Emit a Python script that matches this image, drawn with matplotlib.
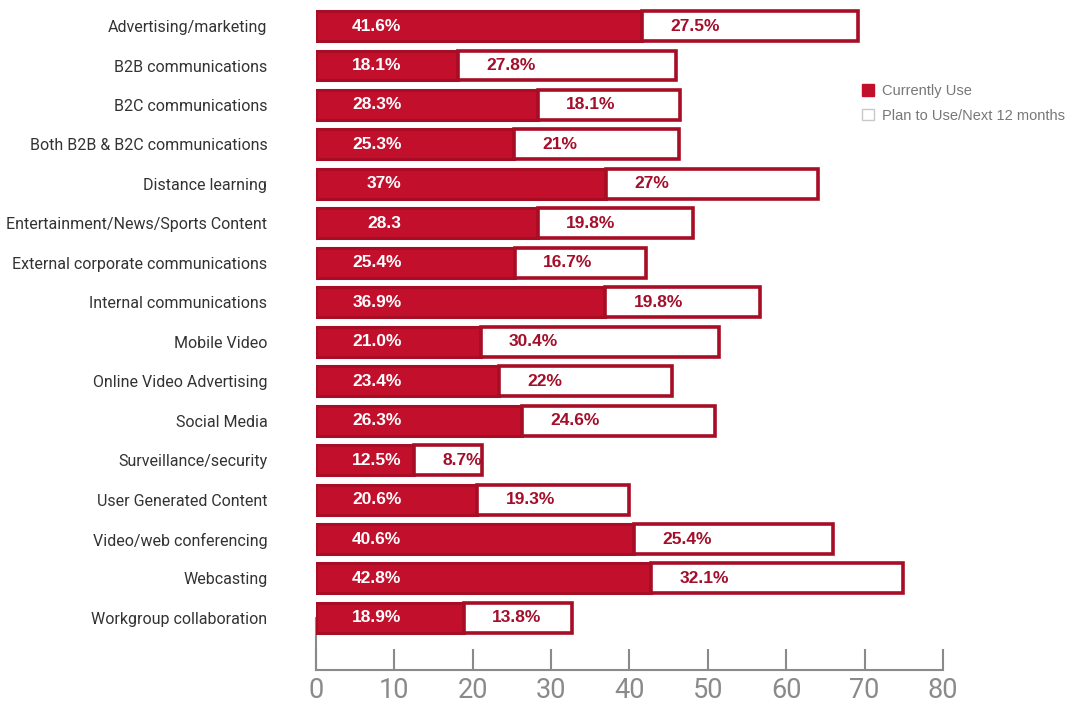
import matplotlib.pyplot as plt
from matplotlib.patches import Patch


categories = [
    "Advertising/marketing",
    "B2B communications",
    "B2C communications",
    "Both B2B & B2C communications",
    "Distance learning",
    "Entertainment/News/Sports Content",
    "External corporate communications",
    "Internal communications",
    "Mobile Video",
    "Online Video Advertising",
    "Social Media",
    "Surveillance/security",
    "User Generated Content",
    "Video/web conferencing",
    "Webcasting",
    "Workgroup collaboration",
]

currently_use = [41.6, 18.1, 28.3, 25.3, 37, 28.3, 25.4, 36.9,
                 21.0, 23.4, 26.3, 12.5, 20.6, 40.6, 42.8, 18.9]
plan_to_use = [27.5, 27.8, 18.1, 21, 27, 19.8, 16.7, 19.8,
               30.4, 22, 24.6, 8.7, 19.3, 25.4, 32.1, 13.8]

# labels as printed on the bars
current_labels = ["41.6%", "18.1%", "28.3%", "25.3%", "37%", "28.3", "25.4%", "36.9%",
                  "21.0%", "23.4%", "26.3%", "12.5%", "20.6%", "40.6%", "42.8%", "18.9%"]
plan_labels = ["27.5%", "27.8%", "18.1%", "21%", "27%", "19.8%", "16.7%", "19.8%",
               "30.4%", "22%", "24.6%", "8.7%", "19.3%", "25.4%", "32.1%", "13.8%"]

x_ticks = [0, 10, 20, 30, 40, 50, 60, 70, 80]

RED = "#c20f2c"
EDGE = "#a80d26"
NARROW = ["Roboto", "DejaVu Sans"]
BOLD = ["Liberation Sans", "DejaVu Sans"]


fig = plt.figure(figsize=(10.84, 7.09), dpi=100)
ax = fig.add_axes([0.2915, 0.055, 0.5784, 0.945])

ypos = list(range(len(categories)))
h = 0.76

ax.barh(ypos, currently_use, height=h, color=RED, edgecolor=EDGE, linewidth=2.2, zorder=3)
ax.barh(ypos, plan_to_use, left=currently_use, height=h, color="white",
        edgecolor=EDGE, linewidth=2.6, zorder=3)

for y, cur, cl, pl in zip(ypos, currently_use, current_labels, plan_labels):
    ax.text(10.9, y, cl, ha="right", va="center", color="white",
            fontsize=12.5, fontweight="bold", family=BOLD, zorder=4)
    ax.text(cur + 3.6, y, pl, ha="left", va="center", color="#a30f2a",
            fontsize=12.5, fontweight="bold", family=BOLD, zorder=4)

ax.set_ylim(16.32, -0.66)
ax.set_xlim(0, 80)

ax.set_yticks(ypos)
ax.set_yticklabels(categories, family=NARROW, fontsize=11.5, color="#333333")
ax.tick_params(axis="y", length=0, pad=35)

ax.set_xticks(x_ticks)
ax.set_xticklabels([str(t) for t in x_ticks], family=NARROW, fontsize=19.5, color="#8a8a8a")
ax.tick_params(axis="x", direction="in", length=15, width=1.5, color="#8a8a8a", pad=5)

for side in ["top", "right"]:
    ax.spines[side].set_visible(False)
for side in ["left", "bottom"]:
    ax.spines[side].set_color("#8a8a8a")
    ax.spines[side].set_linewidth(1.5)
# left axis line only shows below the last bar
ax.spines["left"].set_bounds(ypos[-1], 16.32)

handles = [
    Patch(facecolor=RED, edgecolor=RED),
    Patch(facecolor="white", edgecolor="#c8c8c8"),
]
fig.legend(handles, ["Currently Use", "Plan to Use/Next 12 months"],
           loc="upper left", bbox_to_anchor=(0.783, 0.9), frameon=False,
           prop={"family": BOLD[0], "size": 10.5}, labelcolor="#777777",
           handlelength=0.8, handleheight=0.8, handletextpad=0.6, labelspacing=0.75)

fig.savefig("out.png", dpi=100)
